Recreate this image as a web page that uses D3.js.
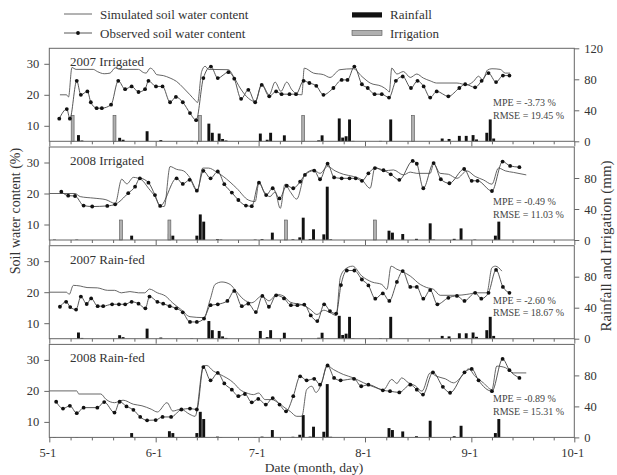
<!DOCTYPE html>
<html><head><meta charset="utf-8">
<script src="https://cdn.jsdelivr.net/npm/d3@7"></script>
<style>
html,body{margin:0;padding:0;background:#fff;}
svg{display:block;font-family:"Liberation Serif","Times New Roman",serif;}
</style></head>
<body><svg id="c" width="617" height="475"></svg>
<script>
// ---- Axis / tick data (x = days after May 1) ----
const monthDays = [0, 31, 61, 92, 123, 153];
const monthLabels = ["5-1", "6-1", "7-1", "8-1", "9-1", "10-1"];
const leftTicks = [10, 20, 30];
const rightTicks = [0, 40, 80, 120];
const panelNames = ["2007 Irrigated", "2008 Irrigated", "2007 Rain-fed", "2008 Rain-fed"];
const mpeLabels = ["MPE = -3.73 %", "MPE = -0.49 %", "MPE = -2.60 %", "MPE = -0.89 %"];
const rmseLabels = ["RMSE = 19.45 %", "RMSE = 11.03 %", "RMSE = 18.67 %", "RMSE = 15.31 %"];

// ---- 2007 Irrigated ----
const sim07IDays = [3.1,5,5.6,6.6,7.8,12.8,14,16,17.7,19.2,20.5,26,27.4,28.2,29.4,30.3,31.3,33.2,35.2,37.1,39.1,41,42.5,43.2,44.4,45.4,46.4,52.2,53.7,55.6,58,60,61.9,64.1,65.8,67.5,69.2,70.7,72.3,73.6,74.3,77,79.9,81.8,84.7,88.6,91.1,93.5,96.9,98.4,99.1,99.8,101.3,103.2,105.2,107.1,109,111,112.9,118.8,121.7,123.6,125.1,126.3,127.7,129,131.4,132.9,134.3];
const sim07IVals = [20,20,19.3,28.8,28.2,28.2,27.5,26.8,27,28.7,28.2,28.2,27.2,27,28.6,28,26.5,26.2,25.4,24.3,22.2,20,18.2,17.5,27.5,29.2,28.2,28.1,25.9,22.2,18.9,17.8,23.4,20,24.1,21.1,24.1,21.6,20.2,20,28.6,27,26.5,25.6,28.1,28.4,25.9,23.8,22.7,21.6,20.9,28.6,26.7,27.5,25.6,26.7,25.4,24.5,23.8,23.8,23.2,24.3,26,24.8,28,28.4,28.2,27,27];
const obs07IDays = [2.9,5.1,6,8,9.2,11.1,12.1,13.8,15.3,18,20.1,22.1,24,26,27.9,28.9,31.1,33,35.2,36.9,38.9,41,42.8,44.9,47.1,49.1,52.2,53.9,55.9,58,60,61.9,64.1,66.1,67.7,70,71.9,74.1,75.8,77.8,79.9,82.8,85.2,86.9,88.9,91.1,92.8,94.8,96.9,99,101,103,105.4,107.3,109.1,111,112.9,116.3,119.5,121.2,124.1,126,128,130.2,132.2,134.1];
const obs07IVals = [12.3,15.4,12.3,24.5,20,21.1,17.6,15.7,15.7,16.8,24.5,21.8,22.7,20.9,21.8,24.5,22.7,22.7,17.6,19.3,17.6,14.1,11.8,25.4,29.1,25.4,27.3,25.2,18.7,21.6,17.6,23.2,19.5,21.1,20.2,20.2,20.2,24.5,23.8,22.9,20,22.2,24.8,24.8,29.1,23.4,22.2,20.2,20.2,19.1,24.5,25.9,22.2,24.5,22.7,19.1,21.1,19.5,22.2,23.4,22.4,24.5,27,24.1,26.2,26.2];

// ---- 2008 Irrigated ----
const sim08IDays = [0,7.5,9,13,16.5,19.2,21.1,22.6,24.5,26.9,28.9,30.8,32.3,33.5,35.2,37.1,39.1,41,43.2,44.7,46.4,48.8,50.7,54.6,58,60,61.1,62.6,64.3,65.8,67.3,68.7,70.2,72.1,74.5,77,78.9,81.1,83.3,85.7,88.6,91.1,93.5,94.9,97.4,100.3,103.2,105.2,107.1,111,112,113.9,116.3,118.8,121.7,124.1,126.5,129,130.9,132.9,135.3,139];
const sim08IVals = [20,20,19,18.5,18,16.8,24.6,23.1,25.2,24.4,21.7,19,16,15.8,28.7,27.8,27.3,25.1,21,28.2,28.2,26.9,25.5,21.7,17.9,17.4,23.6,20.6,19,20.5,15.2,23,20.6,18.2,26.2,27.6,26.5,28.7,27.3,26.2,25.5,24.4,21.7,28.4,27.3,27.6,26,26.9,26.5,26.5,29.5,26.5,26.2,24.9,27.3,25.5,24.4,23,28.2,27.3,26.8,26];
const obs08IDays = [3.5,5.5,7.5,10,12.5,16.9,19.2,23,25,26.4,28.9,30.8,32.3,37.1,38.9,40.9,43,44.9,47,49.1,51,53.2,55.1,57.3,59,61.1,63.2,65.1,67.1,69.2,71.1,73.1,74.5,77.2,78.9,81.1,83,85.2,87.5,89.3,91.1,93,94.9,97.4,99.5,102,105.9,107.1,109,112,114.1,116.6,120.9,123.1,124.8,129,132.1,134.3,137];
const obs08IVals = [20.6,19.3,19.2,16.1,15.8,16,16.5,20.1,22.2,24.9,23.5,19.5,16,24.9,23.1,24.4,20.9,27.3,24.9,27.1,23,20.3,17.9,16.1,15.9,23.5,19.5,21.7,18.4,22.5,21.7,23.8,26,27.4,24.6,29.6,25.2,24.9,24.9,24.9,24.1,26.5,28.2,27.5,26.2,24.4,30.5,29.6,21.7,29.8,24.6,23.3,27.9,24.1,24.1,20.8,30.3,28.9,28.5];

// ---- 2007 Rain-fed ----
const sim07RDays = [0,5,5.8,7,9,11,14,17,19,21,23.5,26,27.8,29.2,31.5,33.8,36,38.3,41,45,46.9,48.3,50.3,52.7,54.6,56.6,59,62,64,66.3,68.2,70.2,74,76,78,80,81.8,83.6,84.8,86.2,88.4,91.1,94,96.9,98.4,99.6,101.3,103.2,105.2,108.1,110,112,113.9,118.8,121.7,124.6,127.5,129,130,131.9];
const sim07RVals = [20,20,19.3,22.2,22,21.5,21.4,20.6,20.6,19.8,20.2,19.8,19.8,21,19.8,18.8,16.5,14.5,12.1,11.8,17.7,22.5,23.3,22.5,20.1,17.7,16.6,18.8,17.2,19.3,18.8,16.8,15.8,14.5,12.8,14.2,13.4,12.5,24.7,27.4,28.4,25.2,23.3,22.5,20.9,28.4,27.4,26.5,25.2,22.5,21.5,20.9,19,19,19.3,19.8,19.8,27.9,28.4,26.8];
const obs07RDays = [3.1,4.9,6.1,7.8,9.2,10.9,12.2,14.1,15.7,18.3,20.3,22.1,24,26,28,29.2,31.5,33.2,35.1,37,38.9,41,43,45.1,47,49.1,51.9,53.9,56.1,58,60.2,62.1,64,66.1,68.4,70.4,72.3,74.3,76.2,78.1,80.1,81.8,83.6,85,86.7,88.9,91.1,93,95,97.2,99.1,101.3,103,105.2,107.1,109,111,113.1,116.3,118.8,121,124.1,125.9,128,130.2,132.2,134.1];
const obs07RVals = [15.3,16.9,15.2,14.4,18.6,16.2,18,15.5,15.5,16.1,16.1,16.1,16.9,16.3,14.8,18.6,16.9,16.3,15.5,14.8,13.5,10.4,10.4,11.5,15.8,16.1,17.2,20.4,15.5,16.3,13.6,18.8,15.3,19,18,15.8,15.8,16,12.5,10.7,16.1,13.9,13.1,22.3,27,27,24.1,22.2,17.9,19.6,17.2,23.3,26.8,21.7,21.7,17.9,20.7,16.1,18.2,18.8,17.2,19.8,17.9,19.8,27.2,21.7,19.8];

// ---- 2008 Rain-fed ----
const sim08RDays = [0,8,8.6,15,16.5,19,21.5,24.5,27,29.7,31.5,34.3,36,38.3,41,42.5,44.9,45.9,47.8,49.8,53.7,55.6,57.6,59.5,61,62.9,64.8,66.8,68.7,70.2,72.1,73.6,75,76.5,77.7,79.4,80.9,82.8,85.7,88.6,91.6,94.5,97.4,99.8,101.3,102.7,104.7,106.6,108.6,111,112.9,115.4,117.8,120.2,122.2,124.1,126.5,129,130.4,132.9,135.3,139];
const sim08RVals = [20,20,19,19,17.3,16.2,17,15.7,15.2,14.1,13.2,16.2,13.5,14.1,12.4,11.8,28,28.2,26.4,25.3,22.6,20.4,19.3,18.8,19.3,17.2,17.2,16.1,14.5,13.4,11.8,11.8,20.4,21.5,19.5,22.6,28.2,26.9,25.3,24.2,22.6,21.3,20.4,23.7,22.4,24.2,22.6,21.7,19.9,25.8,24.7,23.9,22.6,24.7,27.1,24.7,22.6,20.4,28,27.5,25.8,25.8];
const obs08RDays = [2,4,6,8,10,14,16,19,20.5,22.5,24.5,26.5,28.5,31,33,35.5,38.5,41,43,44.9,47,49.1,51,53.2,55.1,57,59,60.9,63.1,65.1,67.1,69,71.1,73.1,75,77.2,78.9,81.1,83,84.9,88.8,90.9,93,97.2,99.3,102,105.2,107.1,108.9,111.8,114.7,116.8,121,123.1,125.1,129,132.1,134.1,137];
const obs08RVals = [16.5,14.3,15.2,12.8,14.6,14.6,16.4,13,16.5,15,13.9,11.6,10.5,10.6,11.6,11.6,14,14.3,14,27.7,23.4,25.8,22.4,20.4,18.3,19,16.3,17.4,15.6,17.7,15.6,13.4,18.3,24.7,23.4,23.9,22,28.2,24.2,23.4,23.9,21.5,22,20.2,19.9,19.5,22,20.4,18.8,26,21.3,19.4,26,27.1,23.4,19.9,30.3,26.7,24.2];

// ---- Rainfall (mm) per year, irrigation (mm) per irrigated panel ----
const rain07Days = [8.5,9.5,20.5,21.5,28.5,32.5,41.5,46.5,47.5,49.5,50.5,51.5,61.5,63.5,64.5,68.5,78.5,79.5,84.5,85.5,86.5,87.5,88.5,96.5,99.5,114.5,116.5,119.5,121.5,123.5,124.5,127.5,128.5,129.5];
const rain07Vals = [8,1,4.5,2,13,1.5,0.5,22.8,11,10,3,1,10,2,11,7.7,1.2,7.7,29.5,4.8,6.5,28.2,0.5,0.5,28.2,3.6,3,7,7,8,2.4,11,28.2,3.6];
const irr07Days = [6.8, 19, 43.9, 74, 106];
const irr07Vals = [33.5, 33.5, 33.5, 33.5, 33.5];
const rain08Days = [1.5,8,24,35,36,43,44,45,49,50,60,62,65,71,73,74,76,77,80,81,82,99,100,103,107,111,112,118,120,124,130,131];
const rain08Vals = [0.5,0.5,5.6,8,5.6,5.6,33,23.7,1,0.5,0.5,1,9.5,0.8,3.4,28.8,1,13.8,7.3,68.8,0.8,12,9.5,7.7,1.5,21.5,0.5,1.5,15,0.5,5.6,23.7];
const irr08Days = [20.9, 35, 69, 94.9];
const irr08Vals = [25.8, 25.8, 25.8, 25.8];

const panels = [
  {simD: sim07IDays, simV: sim07IVals, obsD: obs07IDays, obsV: obs07IVals, rainD: rain07Days, rainV: rain07Vals, irrD: irr07Days, irrV: irr07Vals},
  {simD: sim08IDays, simV: sim08IVals, obsD: obs08IDays, obsV: obs08IVals, rainD: rain08Days, rainV: rain08Vals, irrD: irr08Days, irrV: irr08Vals},
  {simD: sim07RDays, simV: sim07RVals, obsD: obs07RDays, obsV: obs07RVals, rainD: rain07Days, rainV: rain07Vals, irrD: [], irrV: []},
  {simD: sim08RDays, simV: sim08RVals, obsD: obs08RDays, obsV: obs08RVals, rainD: rain08Days, rainV: rain08Vals, irrD: [], irrV: []}
];

// ---- Drawing ----
const svg = d3.select("#c");
const X0 = 49.3, X1 = 574.3, PH = 93, TOP0 = 48.3, STEP = 98.7;
const x = d3.scaleLinear().domain([0, 153]).range([X0, X1]);
const barW = (x(1) - x(0)) * 0.85;
const txt = "#333", axc = "#666";

// minor tick positions: 4 between each pair of month ticks
const minorTicks = [];
for (let i = 0; i < monthDays.length - 1; i++) {
  const a = monthDays[i], b = monthDays[i + 1];
  for (let k = 1; k < 5; k++) minorTicks.push(a + (b - a) * k / 5);
}

panels.forEach((p, i) => {
  const top = TOP0 + i * STEP, bot = top + PH;
  const yL = d3.scaleLinear().domain([5, 35]).range([bot, top]);
  const yR = d3.scaleLinear().domain([0, 120]).range([bot, top]);
  const g = svg.append("g");

  g.selectAll("rect.rain").data(p.rainD.map((d, j) => [d, p.rainV[j]])).join("rect")
    .attr("x", d => x(d[0]) - barW / 2).attr("width", barW)
    .attr("y", d => yR(d[1])).attr("height", d => yR(0) - yR(d[1]))
    .attr("fill", "#111");
  g.selectAll("rect.irr").data(p.irrD.map((d, j) => [d, p.irrV[j]])).join("rect")
    .attr("x", d => x(d[0]) - barW / 2).attr("width", barW)
    .attr("y", d => yR(d[1])).attr("height", d => yR(0) - yR(d[1]))
    .attr("fill", "#b0b0b0").attr("stroke", "#555").attr("stroke-width", 0.6);

  const sim = p.simD.map((d, j) => [d, p.simV[j]]);
  const obs = p.obsD.map((d, j) => [d, p.obsV[j]]);
  const line = d3.line().x(d => x(d[0])).y(d => yL(d[1])).curve(d3.curveMonotoneX);
  g.append("path").attr("d", line(sim)).attr("fill", "none").attr("stroke", "#555").attr("stroke-width", 0.9);
  g.append("path").attr("d", line(obs)).attr("fill", "none").attr("stroke", "#444").attr("stroke-width", 0.9);
  g.selectAll("circle").data(obs).join("circle")
    .attr("cx", d => x(d[0])).attr("cy", d => yL(d[1])).attr("r", 1.9).attr("fill", "#111");

  g.append("rect").attr("x", X0).attr("y", top).attr("width", X1 - X0).attr("height", PH)
    .attr("fill", "none").attr("stroke", axc).attr("stroke-width", 1);

  const la = g.append("g").attr("transform", `translate(${X0},0)`)
    .call(d3.axisLeft(yL).tickValues(leftTicks).tickSize(5).tickPadding(5));
  const ra = g.append("g").attr("transform", `translate(${X1},0)`)
    .call(d3.axisRight(yR).tickValues(i === 0 ? rightTicks : rightTicks.slice(0, 3)).tickSize(5).tickPadding(5));
  const ba = g.append("g").attr("transform", `translate(0,${bot})`)
    .call(d3.axisBottom(x).tickValues(monthDays).tickSize(5).tickPadding(6)
      .tickFormat((d, j) => i === 3 ? monthLabels[j] : ""));
  const bm = g.append("g").attr("transform", `translate(0,${bot})`)
    .call(d3.axisBottom(x).tickValues(minorTicks).tickSize(3).tickFormat(""));
  [la, ra, ba, bm].forEach(a => {
    a.select(".domain").remove();
    a.selectAll("line").attr("stroke", axc);
    a.selectAll("text").attr("fill", txt).style("font-size", "12.5px").style("font-family", "Liberation Serif");
  });
  ba.selectAll("text").attr("dx", "-2");

  g.append("text").attr("x", 70).attr("y", top + 18).text(panelNames[i])
    .attr("fill", txt).style("font-size", "13px");
  g.append("text").attr("x", 493).attr("y", top + 58).text(mpeLabels[i])
    .attr("fill", "#444").style("font-size", "10px");
  g.append("text").attr("x", 493).attr("y", top + 70.5).text(rmseLabels[i])
    .attr("fill", "#444").style("font-size", "10px");
});

svg.append("text").attr("transform", "translate(20,211) rotate(-90)").attr("text-anchor", "middle")
  .text("Soil water content (%)").attr("fill", txt).style("font-size", "14px");
svg.append("text").attr("transform", "translate(611,246) rotate(-90)").attr("text-anchor", "middle")
  .text("Rainfall and Irrigation (mm)").attr("fill", txt).style("font-size", "15px");
svg.append("text").attr("x", 314).attr("y", 472).attr("text-anchor", "middle")
  .text("Date (month, day)").attr("fill", txt).style("font-size", "13.5px");

const lg = svg.append("g");
lg.append("line").attr("x1", 64).attr("x2", 92).attr("y1", 14).attr("y2", 14).attr("stroke", "#555").attr("stroke-width", 0.9);
lg.append("text").attr("x", 100).attr("y", 18.5).text("Simulated soil water content").attr("fill", txt).style("font-size", "13px");
lg.append("line").attr("x1", 64).attr("x2", 92).attr("y1", 33).attr("y2", 33).attr("stroke", "#444").attr("stroke-width", 0.9);
lg.append("circle").attr("cx", 78).attr("cy", 33).attr("r", 1.9).attr("fill", "#111");
lg.append("text").attr("x", 100).attr("y", 37.5).text("Observed soil water content").attr("fill", txt).style("font-size", "13px");
lg.append("rect").attr("x", 352).attr("y", 12.3).attr("width", 30).attr("height", 5.2).attr("fill", "#111");
lg.append("text").attr("x", 390).attr("y", 18.5).text("Rainfall").attr("fill", txt).style("font-size", "13px");
lg.append("rect").attr("x", 352).attr("y", 30.5).attr("width", 30).attr("height", 5).attr("fill", "#b0b0b0").attr("stroke", "#555").attr("stroke-width", 0.6);
lg.append("text").attr("x", 390).attr("y", 37.5).text("Irrigation").attr("fill", txt).style("font-size", "13px");
</script></body></html>
